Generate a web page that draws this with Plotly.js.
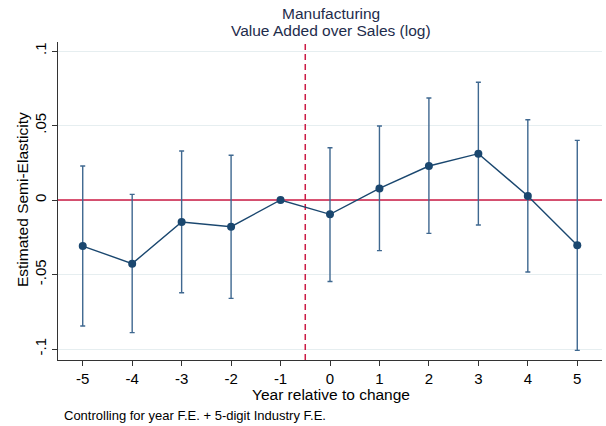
<!DOCTYPE html>
<html>
<head>
<meta charset="utf-8">
<script src="https://cdn.plot.ly/plotly-3.0.1.min.js"></script>
<style>html,body{margin:0;padding:0;background:#fff}#chart{width:606px;height:426px}</style>
</head>
<body>
<div id="chart"></div>
<script>
// Data
const years = [-5, -4, -3, -2, -1, 0, 1, 2, 3, 4, 5];
const estimate = [-0.0309, -0.0427, -0.0148, -0.0179, 0.0, -0.0096, 0.0078, 0.0228, 0.0311, 0.0027, -0.0304];
const ciHigh = [0.0228, 0.0038, 0.0329, 0.0300, 0.0, 0.0351, 0.0497, 0.0685, 0.0790, 0.0539, 0.0400];
const ciLow = [-0.0846, -0.0890, -0.0622, -0.0660, 0.0, -0.0547, -0.0340, -0.0224, -0.0168, -0.0483, -0.1009];
const yTickVals = [-0.1, -0.05, 0, 0.05, 0.1];
const yTickText = ['-.1', '-.05', '0', '.05', '.1'];
const xTickVals = [-5, -4, -3, -2, -1, 0, 1, 2, 3, 4, 5];
const xTickText = ['-5', '-4', '-3', '-2', '-1', '0', '1', '2', '3', '4', '5'];
const xRange = [-5.5, 5.5];
const yRange = [-0.10738, 0.10604];
const refY = 0;       // horizontal reference line
const eventX = -0.5;  // vertical dashed line

const FONT = 'Liberation Sans, Arial, sans-serif';
const navy = '#1a476f';
const red = '#cc1a44';
const titleColor = '#1e2c4c';

const upErr = ciHigh.map((v, i) => v - estimate[i]);
const downErr = ciLow.map((v, i) => estimate[i] - v);

const ciTrace = {
  x: years, y: estimate, type: 'scatter', mode: 'none',
  error_y: {type: 'data', symmetric: false, array: upErr, arrayminus: downErr,
            color: '#3f6890', thickness: 1.4, width: 2.5},
  hoverinfo: 'skip', showlegend: false
};
const lineTrace = {
  x: years, y: estimate, type: 'scatter', mode: 'lines+markers',
  line: {color: navy, width: 1.4},
  marker: {color: navy, size: 8},
  showlegend: false
};

const layout = {
  width: 606, height: 426,
  margin: {l: 58, r: 4, t: 42, b: 66},
  paper_bgcolor: '#ffffff', plot_bgcolor: '#ffffff',
  font: {family: FONT, color: '#000000', size: 15},
  xaxis: {
    range: xRange, tickmode: 'array', tickvals: xTickVals, ticktext: xTickText,
    ticks: 'outside', ticklen: 5, tickcolor: '#333', tickwidth: 1,
    showline: true, linecolor: '#333', linewidth: 1, mirror: false,
    showgrid: false, zeroline: false,
    tickfont: {family: FONT, size: 15}
  },
  yaxis: {
    range: yRange, tickmode: 'array', tickvals: yTickVals, ticktext: yTickText,
    tickangle: -90,
    ticks: 'outside', ticklen: 5, tickcolor: '#333', tickwidth: 1,
    showline: true, linecolor: '#333', linewidth: 1,
    showgrid: true, gridcolor: '#e6eef0', gridwidth: 1, zeroline: false,
    tickfont: {family: FONT, size: 15}
  },
  shapes: [
    {type: 'line', xref: 'x', x0: xRange[0], x1: xRange[1], yref: 'y', y0: refY, y1: refY,
     line: {color: red, width: 1.5}, layer: 'between'},
    {type: 'line', xref: 'x', x0: eventX, x1: eventX, yref: 'y', y0: yRange[0], y1: yRange[1],
     line: {color: red, width: 1.5, dash: '6px,4px'}, layer: 'between'}
  ],
  annotations: [
    {text: 'Manufacturing', xref: 'paper', yref: 'paper', x: 0.501, y: 1.0896,
     xanchor: 'center', yanchor: 'middle', showarrow: false,
     font: {family: FONT, size: 15.5, color: titleColor}},
    {text: 'Value Added over Sales (log)', xref: 'paper', yref: 'paper', x: 0.501, y: 1.0362,
     xanchor: 'center', yanchor: 'middle', showarrow: false,
     font: {family: FONT, size: 15.5, color: titleColor}},
    {text: 'Year relative to change', xref: 'paper', yref: 'paper', x: 0.501, y: -0.107,
     xanchor: 'center', yanchor: 'middle', showarrow: false,
     font: {family: FONT, size: 15.5, color: '#000'}},
    {text: 'Estimated Semi-Elasticity', xref: 'paper', yref: 'paper', x: -0.0662, y: 0.506,
     xanchor: 'center', yanchor: 'middle', textangle: -90, showarrow: false,
     font: {family: FONT, size: 15.5, color: '#000'}},
    {text: 'Controlling for year F.E. + 5-digit Industry F.E.', xref: 'paper', yref: 'paper',
     x: 0.0068, y: -0.174, xanchor: 'left', yanchor: 'middle', showarrow: false,
     font: {family: FONT, size: 13, color: '#000'}}
  ]
};

Plotly.newPlot('chart', [ciTrace, lineTrace], layout, {displayModeBar: false, staticPlot: true});
</script>
</body>
</html>
